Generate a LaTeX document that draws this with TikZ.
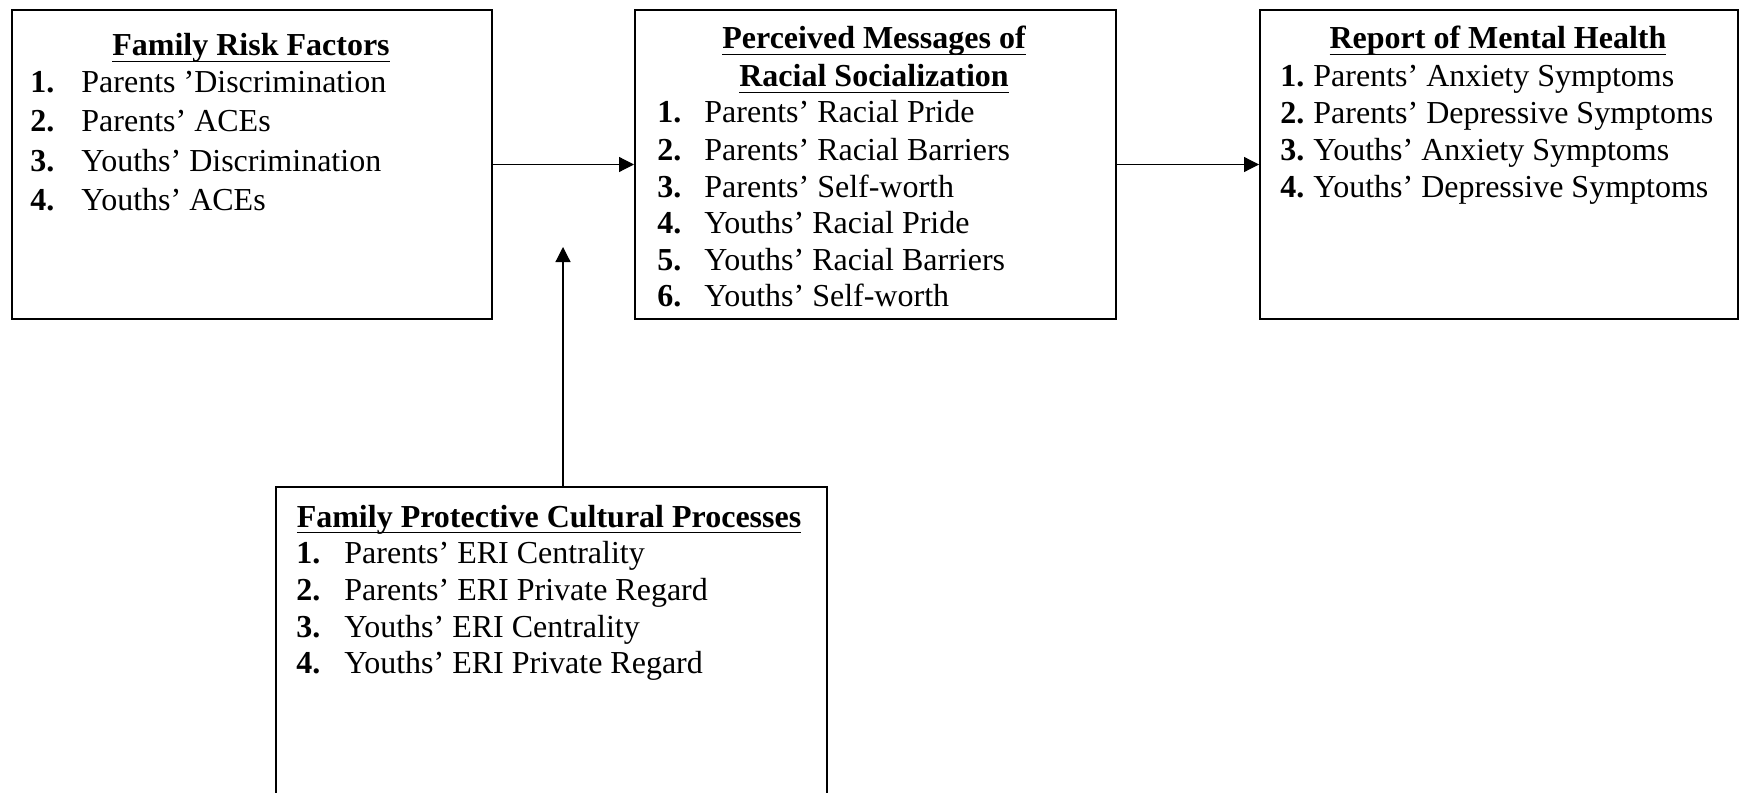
\documentclass[tikz,border=0pt]{standalone}
\usepackage{fontspec}
\setmainfont{Liberation Serif}
\usetikzlibrary{arrows.meta}
\newcommand{\ttlu}[1]{\setbox0\hbox{\bfseries #1}\rlap{\rule[-3.2pt]{\wd0}{0.9pt}}\box0}
\begin{document}
\begin{tikzpicture}[x=0.5pt,y=-0.5pt,
  box/.style={draw, line width=1pt, inner sep=0pt, anchor=north west},
  itm/.style={inner sep=0pt, anchor=base west, font=\fontsize{16}{19}\selectfont},
  num/.style={inner sep=0pt, anchor=base west, font=\fontsize{16}{19}\selectfont\bfseries},
  ttl/.style={inner sep=0pt, anchor=base, font=\fontsize{16}{19}\selectfont},
  conn/.style={line width=0.6pt, -{Triangle[length=7.5pt,width=7.5pt]}}]
\useasboundingbox (0,0) rectangle (1739,792);
\clip (0,0) rectangle (1739,792);
% boxes
\node[box, minimum width=240pt, minimum height=154.5pt] (b1) at (11,9) {};
\node[box, minimum width=240.5pt, minimum height=154.5pt] (b2) at (634,9) {};
\node[box, minimum width=239pt, minimum height=154.5pt] (b3) at (1259,9) {};
\node[box, minimum width=275.5pt, minimum height=200pt] (b4) at (275,486) {};
% box 1
\node[ttl] (t1) at (251,56) {\ttlu{Family Risk Factors}};
\node[num] (n11) at (30,93) {1.};  \node[itm] (i11) at (81,93) {Parents ’Discrimination};
\node[num] (n12) at (30,132) {2.}; \node[itm] (i12) at (81,132) {Parents’ ACEs};
\node[num] (n13) at (30,171) {3.}; \node[itm] (i13) at (81,171) {Youths’ Discrimination};
\node[num] (n14) at (30,210) {4.}; \node[itm] (i14) at (81,210) {Youths’ ACEs};
% box 2
\node[ttl] (t2a) at (874,49) {\ttlu{Perceived Messages of}};
\node[ttl] (t2b) at (874,87) {\ttlu{Racial Socialization}};
\node[num] (n21) at (657,123) {1.}; \node[itm] (i21) at (704,123) {Parents’ Racial Pride};
\node[num] (n22) at (657,160) {2.}; \node[itm] (i22) at (704,160) {Parents’ Racial Barriers};
\node[num] (n23) at (657,197) {3.}; \node[itm] (i23) at (704,197) {Parents’ Self-worth};
\node[num] (n24) at (657,233) {4.}; \node[itm] (i24) at (704,233) {Youths’ Racial Pride};
\node[num] (n25) at (657,270) {5.}; \node[itm] (i25) at (704,270) {Youths’ Racial Barriers};
\node[num] (n26) at (657,306) {6.}; \node[itm] (i26) at (704,306) {Youths’ Self-worth};
% box 3
\node[ttl] (t3) at (1498,49) {\ttlu{Report of Mental Health}};
\node[num] (n31) at (1280,87) {1.};  \node[itm] (i31) at (1313,87) {Parents’ Anxiety Symptoms};
\node[num] (n32) at (1280,124) {2.}; \node[itm] (i32) at (1313,124) {Parents’ Depressive Symptoms};
\node[num] (n33) at (1280,161) {3.}; \node[itm] (i33) at (1313,161) {Youths’ Anxiety Symptoms};
\node[num] (n34) at (1280,197) {4.}; \node[itm] (i34) at (1313,197) {Youths’ Depressive Symptoms};
% box 4
\node[ttl] (t4) at (549,527) {\ttlu{Family Protective Cultural Processes}};
\node[num] (n41) at (296,563) {1.}; \node[itm] (i41) at (344,563) {Parents’ ERI Centrality};
\node[num] (n42) at (296,600) {2.}; \node[itm] (i42) at (344,600) {Parents’ ERI Private Regard};
\node[num] (n43) at (296,637) {3.}; \node[itm] (i43) at (344,637) {Youths’ ERI Centrality};
\node[num] (n44) at (296,673) {4.}; \node[itm] (i44) at (344,673) {Youths’ ERI Private Regard};
% connectors
\draw[conn] (b1) -- (b2);
\draw[conn] (b2) -- (b3);
\coordinate (tip) at (563,247);
\draw[conn] (b4.north -| tip) -- (tip);
\end{tikzpicture}
\end{document}
